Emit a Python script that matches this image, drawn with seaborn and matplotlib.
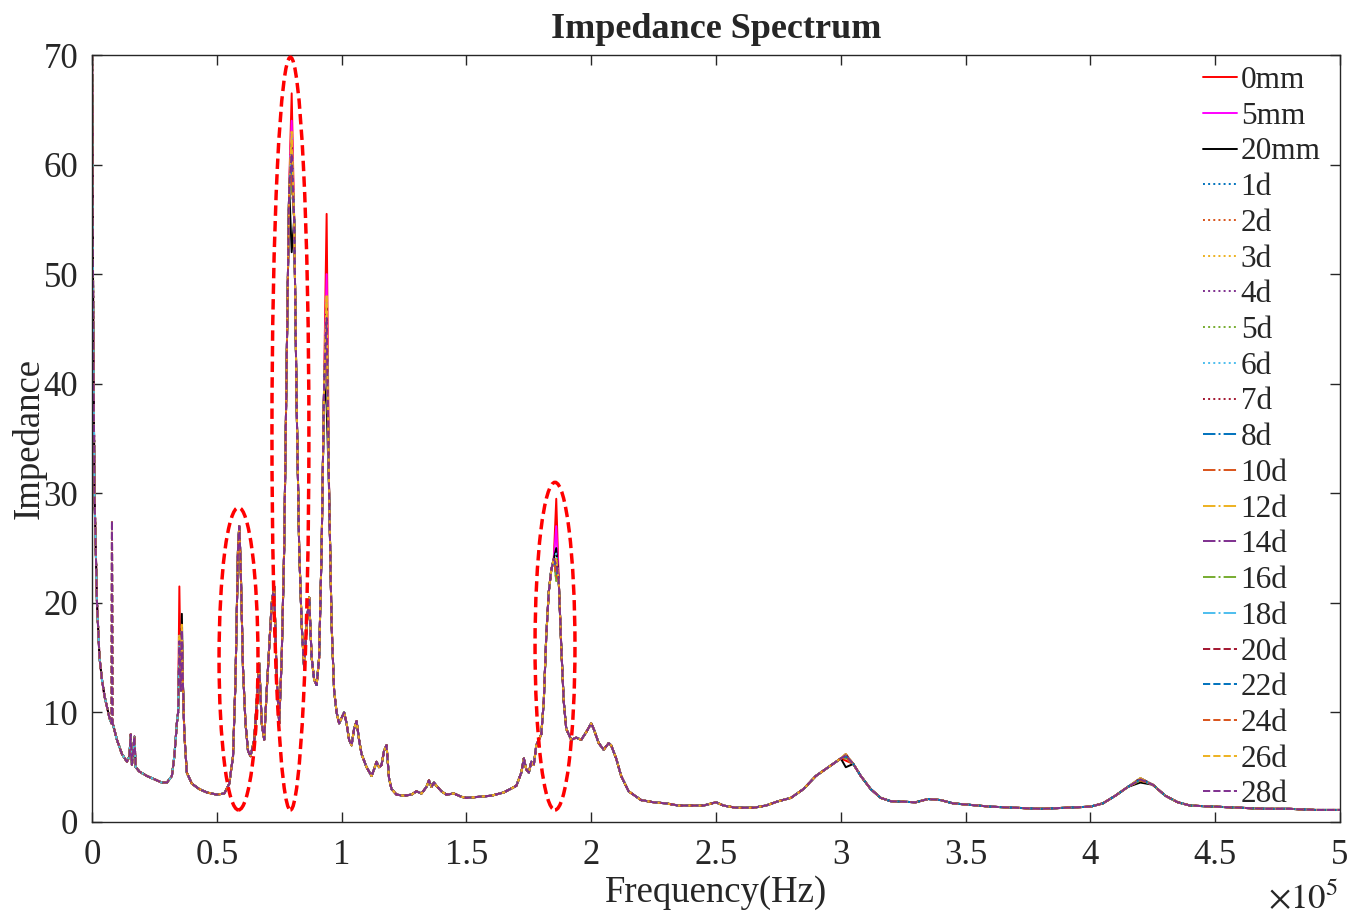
import numpy as np
import pandas as pd
import matplotlib
matplotlib.use("Agg")
import matplotlib.pyplot as plt
from matplotlib.patches import Ellipse
from matplotlib.ticker import FuncFormatter
import seaborn as sns

# ---------------- data ----------------
series_names = ["0mm", "5mm", "20mm", "1d", "2d", "3d", "4d", "5d", "6d", "7d",
                "8d", "10d", "12d", "14d", "16d", "18d", "20d", "22d", "24d", "26d", "28d"]

# shared frequency grid (kHz) and shared impedance shape
freq_khz = [0, 0.5, 1, 2, 3, 4, 5, 6, 7, 7.8, 8, 8.3, 10, 12, 14, 15, 15.5, 16, 17, 17.5,
            19, 22, 25, 28, 30, 32, 33, 34, 34.5, 35, 35.6, 36, 36.5, 37, 38, 40, 43, 46, 50,
            53, 55, 56.5, 57.5, 58.5, 59, 59.5, 60.5, 61.5, 62.5, 63.5, 65, 66, 67, 68, 69,
            70, 71, 72, 73, 74, 75, 76, 77, 78, 79, 80, 81, 82, 83, 84, 85, 86, 87, 88, 89,
            90, 91, 92, 93, 94, 95, 96, 97, 98, 99, 100, 101, 102, 103, 104, 105, 106, 107,
            108, 110, 112, 113, 114, 115, 116, 117, 118, 119, 120, 122, 125, 128, 130, 132,
            134, 135, 136, 137, 138, 140, 142, 145, 148, 150, 155, 160, 165, 170, 172, 173,
            174, 175, 176, 177, 178, 180, 181, 182, 183, 184, 185, 186, 187, 188, 189, 190,
            192, 194, 196, 198, 200, 201, 203, 205, 207, 208, 210, 212, 215, 220, 225, 230,
            235, 240, 245, 250, 253, 258, 265, 270, 275, 280, 285, 290, 295, 300, 302, 305,
            308, 312, 316, 320, 330, 335, 340, 345, 350, 360, 370, 380, 390, 400, 405, 410,
            415, 420, 425, 430, 435, 440, 450, 460, 470, 480, 490, 500]
base_impedance = [72, 45, 30, 20, 15, 13, 11.5, 10.5, 9.5, 9, 9, 9, 7.5, 6.2, 5.5, 6, 8, 5.2, 7.8, 5,
                  4.6, 4.2, 3.9, 3.6, 3.6, 4.2, 6, 9, 10, 16, 12, 18, 12, 8, 4.5, 3.5, 3.0, 2.7, 2.5,
                  2.6, 3.5, 6, 13, 25, 27, 24, 14, 9, 6.5, 6, 7.5, 11, 14.5, 9, 7.5,
                  12, 16, 20, 21.5, 13, 9, 15, 25, 42, 58, 62, 55, 38, 25, 18, 14, 18, 20.5, 15, 13,
                  12.5, 15, 25, 40, 46, 30, 18, 12, 10, 9, 9.5, 10, 9, 7.5, 7, 8.5, 9.2, 7.5,
                  6.2, 5, 4.2, 4.8, 5.5, 5, 5.2, 6.5, 7, 4, 3, 2.5, 2.4, 2.5, 2.8, 2.6,
                  3.2, 3.8, 3.2, 3.6, 3.3, 2.8, 2.5, 2.6, 2.3, 2.2, 2.3, 2.4, 2.7, 3.3, 4.5, 5.8,
                  4.8, 4.5, 5.5, 5.2, 7, 8, 11, 17, 21, 23, 24, 24, 22, 16, 11, 8.5,
                  7.5, 7.7, 7.5, 8.2, 9, 8.5, 7.2, 6.6, 7.2, 7, 5.8, 4.2, 2.8, 2.0, 1.8, 1.7,
                  1.5, 1.5, 1.5, 1.8, 1.5, 1.3, 1.3, 1.5, 1.9, 2.2, 3, 4.2, 5.0, 5.8, 6, 5.3,
                  4.2, 3, 2.2, 1.9, 1.8, 2.1, 2.0, 1.7, 1.6, 1.4, 1.3, 1.2, 1.3, 1.4, 1.7, 2.4,
                  3.2, 3.9, 3.4, 2.4, 1.8, 1.5, 1.4, 1.3, 1.2, 1.2, 1.1, 1.1]

# per-series peak values
peak_8k = [9, 9, 9, 9, 9, 9, 9, 9, 9, 9, 9, 9, 9, 9, 9, 9, 27.5, 27.5, 27.5, 27.5, 27.5]
peak_35k = [21.5, 17, 13, 16, 15.5, 16.5, 16, 15, 17, 16, 16.5, 15.5, 17, 16, 15, 16, 17, 16, 15.5, 17, 16.5]
peak_36k = [14, 15, 19, 17, 16.5, 17.5, 17, 16, 18, 17, 17.5, 16.5, 18, 17, 16, 17, 18, 17, 16.5, 18, 17.5]
peak_80k = [66.5, 64, 52, 60, 58, 62, 61, 59, 63, 60, 61, 59, 62, 60, 58, 61, 62, 60, 59, 63, 61]
peak_94k = [55.5, 50, 38, 45, 44, 47, 46, 43, 48, 45, 46, 44, 48, 46, 43, 45, 47, 45, 44, 48, 46]
peak_186k = [29.5, 27, 25, 23.5, 22.5, 24, 23, 22, 24.5, 23, 23.5, 22.5, 24, 23.5, 22, 23, 24, 23, 22.5, 24, 23.5]
peak_302k = [5.6, 6.0, 5.0, 6.1, 5.9, 6.2, 6.0, 5.8, 6.2, 6.0, 6.1, 5.9, 6.2, 6.0, 5.8, 6.1, 6.2, 6.0, 5.9, 6.2, 6.1]
peak_420k = [3.8, 3.9, 3.6, 4.0, 3.9, 4.0, 3.9, 3.8, 4.0, 3.9, 4.0, 3.9, 4.0, 3.9, 3.8, 3.9, 4.0, 3.9, 3.8, 4.0, 3.9]

peak_freqs_khz = [8, 35, 36, 80, 94, 186, 302, 420]
peak_tables = [peak_8k, peak_35k, peak_36k, peak_80k, peak_94k, peak_186k, peak_302k, peak_420k]

x_tick_values = [0, 0.5, 1, 1.5, 2, 2.5, 3, 3.5, 4, 4.5, 5]   # x 1e5 Hz
y_tick_values = [0, 10, 20, 30, 40, 50, 60, 70]

# styles
colors = ["#FF0000", "#FF00FF", "#000000",
          "#0072BD", "#D95319", "#EDB120", "#7E2F8E", "#77AC30", "#4DBEEE", "#A2142F",
          "#0072BD", "#D95319", "#EDB120", "#7E2F8E", "#77AC30", "#4DBEEE",
          "#A2142F", "#0072BD", "#D95319", "#EDB120", "#7E2F8E"]
styles = ["-"] * 3 + [":"] * 7 + ["-."] * 6 + ["--"] * 5

# ---------------- plotting ----------------
sns.set_style("ticks")
plt.rcParams["font.family"] = ["Liberation Serif", "DejaVu Serif"]
plt.rcParams["mathtext.fontset"] = "stix"

fig = plt.figure(figsize=(13.61, 9.18), dpi=100)
ax = fig.add_axes([92 / 1361, 1 - 822 / 918, (1340 - 92) / 1361, (822 - 55) / 918])

freq_hz = np.array(freq_khz, dtype=float) * 1000.0
for i, name in enumerate(series_names):
    y = np.array(base_impedance, dtype=float)
    for pf, tab in zip(peak_freqs_khz, peak_tables):
        y[freq_khz.index(pf)] = tab[i]
    df = pd.DataFrame({"Frequency": freq_hz, "Impedance": y})
    sns.lineplot(data=df, x="Frequency", y="Impedance", ax=ax, color=colors[i],
                 linestyle=styles[i], linewidth=1.4, label=name, sort=False,
                 estimator=None)

# highlight ellipses
ell_specs = [(0.587e5, 14.9, 0.156e5, 27.6), (0.795e5, 35.45, 0.148e5, 68.7), (1.855e5, 16.05, 0.16e5, 29.9)]
for cx, cy, w, h in ell_specs:
    ax.add_patch(Ellipse((cx, cy), w, h, fill=False, edgecolor="#FF0000",
                         linestyle=(0, (3, 1.5)), linewidth=2.5, zorder=50))

ax.set_xlim(0, 5e5)
ax.set_ylim(0, 70)
ax.set_xticks([v * 1e5 for v in x_tick_values])
ax.set_yticks(y_tick_values)
ax.xaxis.set_major_formatter(FuncFormatter(lambda v, p: f"{v / 1e5:g}"))
ax.tick_params(direction="in", top=True, right=True, length=7, width=1, labelsize=25,
               colors="#262626", labelcolor="#262626")
ax.tick_params(axis="x", pad=12)
ax.tick_params(axis="y", pad=10)
for sp in ax.spines.values():
    sp.set_visible(True)
    sp.set_color("#262626")
    sp.set_linewidth(1)

ax.set_xlabel("Frequency(Hz)", fontsize=26.5, color="#262626", labelpad=3)
ax.set_ylabel("Impedance", fontsize=26.5, color="#262626", labelpad=-2)
ax.set_title("Impedance Spectrum", fontsize=26, fontweight="bold", pad=12)
fig.text(1338 / 1361, 1 - 900 / 918, r"$\times10^{5}$", fontsize=25, ha="right", va="center",
         color="#262626")

leg = ax.legend(loc="upper right", bbox_to_anchor=(0.997, 1.006), fontsize=22.5, frameon=False,
                handlelength=1.1, handletextpad=0.12, labelspacing=0.215, borderaxespad=0.1)

fig.savefig("out.png", dpi=100)
